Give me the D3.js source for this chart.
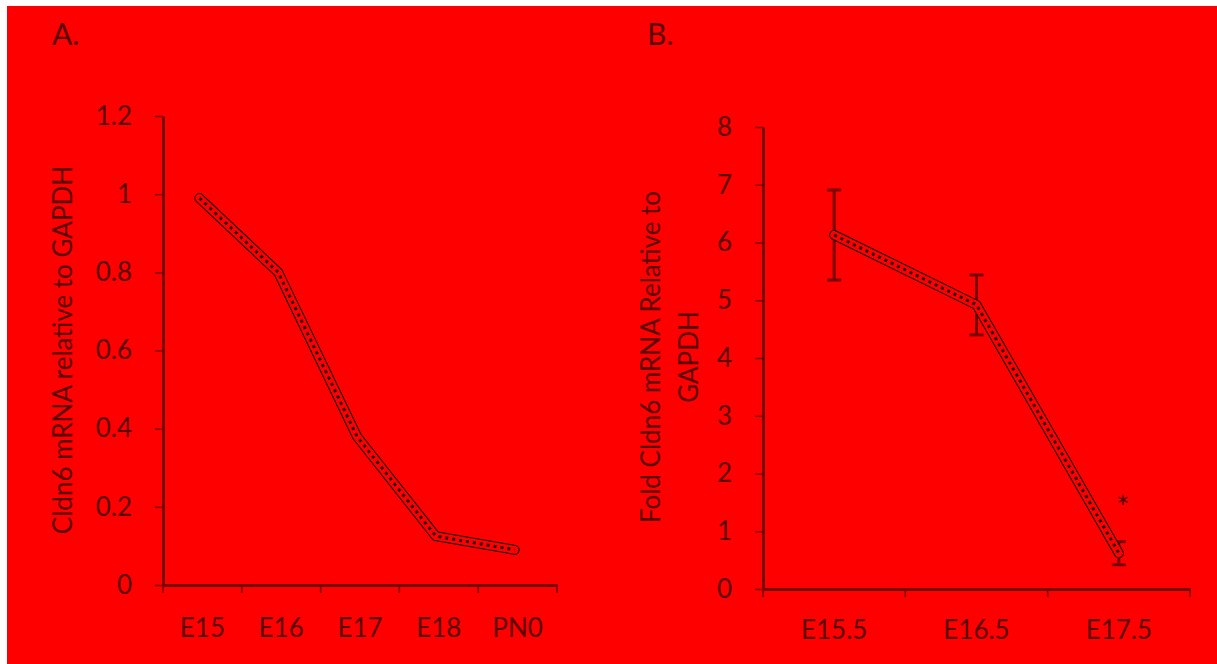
<!DOCTYPE html>
<html>
<head>
<meta charset="utf-8">
<script src="https://cdn.jsdelivr.net/npm/d3@7"></script>
<style>
  body { margin: 0; background: #fff; }
  svg text { font-family: Lato, "Open Sans", sans-serif; fill: #5a0000; }
</style>
</head>
<body>
<svg id="chart" width="1217" height="664"></svg>
<script>
// Panel A data
var stagesA = ["E15", "E16", "E17", "E18", "PN0"];
var valuesA = [0.99, 0.80, 0.38, 0.125, 0.09];
var ticksA = [0, 0.2, 0.4, 0.6, 0.8, 1, 1.2];

// Panel B data
var stagesB = ["E15.5", "E16.5", "E17.5"];
var valuesB = [6.13, 4.92, 0.62];
var errorsB = [0.78, 0.52, 0.2];
var ticksB = [0, 1, 2, 3, 4, 5, 6, 7, 8];

var svg = d3.select("#chart");

// red background with thin white border on top/left
svg.append("rect")
    .attr("x", 7).attr("y", 6)
    .attr("width", 1210).attr("height", 658)
    .attr("fill", "#ff0000");

// draw the thick hatched line used for both series
function drawSeries(g, pts) {
    var line = d3.line().x(d => d[0]).y(d => d[1]);
    g.append("path").attr("d", line(pts))
        .attr("fill", "none").attr("stroke", "#000").attr("stroke-width", 10)
        .attr("stroke-linejoin", "round").attr("stroke-linecap", "round");
    g.append("path").attr("d", line(pts))
        .attr("fill", "none").attr("stroke", "#ff0000").attr("stroke-width", 8)
        .attr("stroke-linejoin", "round").attr("stroke-linecap", "round");
    g.append("path").attr("d", line(pts))
        .attr("fill", "none").attr("stroke", "#000").attr("stroke-width", 3)
        .attr("stroke-dasharray", "3,4").attr("opacity", 0.85);
}

function styleAxis(g) {
    g.select(".domain").attr("stroke", "#7a0000").attr("stroke-width", 3);
    g.selectAll(".tick line").attr("stroke", "#7a0000").attr("stroke-width", 1.5);
    g.selectAll(".tick text").style("font-size", "26px").attr("fill", "#5a0000");
}

// ---------- Panel A ----------
var xA = d3.scaleBand().domain(stagesA).range([163, 557]);
var yA = d3.scaleLinear().domain([0, 1.2]).range([585, 116]);

var gA = svg.append("g");

gA.append("g")
    .attr("transform", "translate(0,585)")
    .call(d3.axisBottom(xA).tickSize(0).tickPadding(34))
    .call(styleAxis);

// tick marks at band edges
gA.selectAll(".xtickA")
    .data(stagesA.map(d => xA(d)).concat([xA.range()[1]]))
    .enter().append("line")
    .attr("x1", d => d).attr("x2", d => d)
    .attr("y1", 585).attr("y2", 593)
    .attr("stroke", "#7a0000").attr("stroke-width", 1.5);

gA.append("g")
    .attr("transform", "translate(163,0)")
    .call(d3.axisLeft(yA).tickValues(ticksA).tickSize(8).tickSizeOuter(0)
        .tickPadding(23).tickFormat(d => String(+d.toFixed(1))))
    .call(styleAxis);

gA.append("text")
    .attr("transform", "translate(72,350) rotate(-90)")
    .attr("text-anchor", "middle")
    .style("font-size", "26px")
    .text("Cldn6 mRNA relative to GAPDH");

drawSeries(gA.append("g"), stagesA.map((s, i) => [xA(s) + xA.bandwidth() / 2 - 3, yA(valuesA[i])]));

gA.append("text").attr("x", 52).attr("y", 45)
    .style("font-size", "30px").text("A.");

// ---------- Panel B ----------
var xB = d3.scaleBand().domain(stagesB).range([763, 1190]);
var yB = d3.scaleLinear().domain([0, 8]).range([589, 127]);

var gB = svg.append("g");

gB.append("g")
    .attr("transform", "translate(0,589)")
    .call(d3.axisBottom(xB).tickSize(0).tickPadding(32))
    .call(styleAxis);

gB.selectAll(".xtickB")
    .data(stagesB.map(d => xB(d)).concat([xB.range()[1]]))
    .enter().append("line")
    .attr("x1", d => d).attr("x2", d => d)
    .attr("y1", 589).attr("y2", 597)
    .attr("stroke", "#7a0000").attr("stroke-width", 1.5);

gB.append("g")
    .attr("transform", "translate(763,0)")
    .call(d3.axisLeft(yB).tickValues(ticksB).tickSize(8).tickSizeOuter(0).tickPadding(23))
    .call(styleAxis);

var titleB = gB.append("text")
    .attr("transform", "translate(660,357) rotate(-90)")
    .attr("text-anchor", "middle")
    .style("font-size", "26px");
titleB.append("tspan").attr("x", 0).attr("dy", "0").text("Fold Cldn6 mRNA Relative to");
titleB.append("tspan").attr("x", 0).attr("dy", "1.45em").text("GAPDH");

var cx = d => xB(d) + xB.bandwidth() / 2;

// error bars
var eb = gB.selectAll(".err")
    .data(stagesB.map((s, i) => ({ s: s, v: valuesB[i], e: errorsB[i] })))
    .enter().append("g");
eb.append("line")
    .attr("x1", d => cx(d.s)).attr("x2", d => cx(d.s))
    .attr("y1", d => yB(d.v + d.e)).attr("y2", d => yB(d.v - d.e))
    .attr("stroke", "#7a0000").attr("stroke-width", 3);
eb.selectAll(".cap")
    .data(d => [[d.s, d.v + d.e], [d.s, d.v - d.e]])
    .enter().append("line")
    .attr("x1", d => cx(d[0]) - 7).attr("x2", d => cx(d[0]) + 7)
    .attr("y1", d => yB(d[1])).attr("y2", d => yB(d[1]))
    .attr("stroke", "#7a0000").attr("stroke-width", 3);

drawSeries(gB.append("g"), stagesB.map((s, i) => [cx(s), yB(valuesB[i])]));

gB.append("text")
    .attr("x", cx("E17.5") + 4).attr("y", yB(valuesB[2]) - 34)
    .attr("text-anchor", "middle")
    .style("font-size", "32px").text("*");

gB.append("text").attr("x", 647).attr("y", 45)
    .style("font-size", "30px").text("B.");
</script>
</body>
</html>
